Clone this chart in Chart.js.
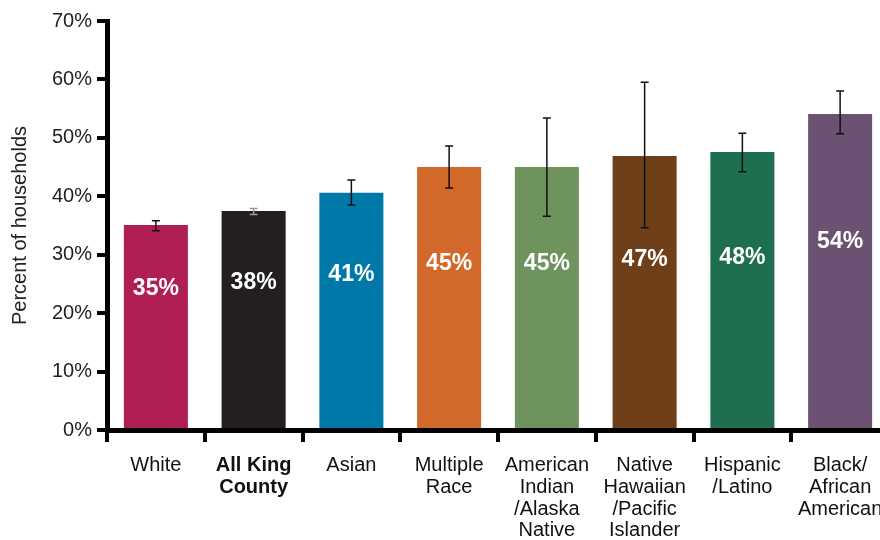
<!DOCTYPE html>
<html>
<head>
<meta charset="utf-8">
<script src="https://cdn.jsdelivr.net/npm/chart.js@4"></script>
<style>
  html, body { margin: 0; padding: 0; background: #fff; overflow: hidden; }
  #wrap { width: 900px; height: 540px; }
</style>
</head>
<body>
<div id="wrap"><canvas id="myChart" width="900" height="540"></canvas></div>
<script>
// Households by race/ethnicity
let categories = [
  ["White"], ["All King", "County"], ["Asian"], ["Multiple", "Race"],
  ["American", "Indian", "/Alaska", "Native"], ["Native", "Hawaiian", "/Pacific", "Islander"],
  ["Hispanic", "/Latino"], ["Black/", "African", "American"]
];
let values = [35.1, 37.5, 40.6, 45.0, 45.0, 46.9, 47.6, 54.1];
let errLow = [34.1, 36.9, 38.5, 41.4, 36.6, 34.6, 44.2, 50.7];
let errHigh = [35.8, 37.9, 42.8, 48.6, 53.4, 59.5, 50.8, 58.0];
let barColors = ["#B01F53", "#231F20", "#0079A8", "#D2692B", "#6F935C", "#6E3F19", "#1E6F50", "#6B5272"];
let errColors = ["#111", "#999", "#111", "#111", "#111", "#111", "#111", "#111"];
let yTicks = [0, 10, 20, 30, 40, 50, 60, 70];

// error bars + value labels
const extras = {
  id: "extras",
  afterDatasetsDraw(chart) {
    const ctx = chart.ctx;
    const y = chart.scales.y;
    const bars = chart.getDatasetMeta(0).data;
    ctx.save();
    bars.forEach((bar, i) => {
      const x = bar.x;
      const yl = y.getPixelForValue(errLow[i]);
      const yh = y.getPixelForValue(errHigh[i]);
      ctx.strokeStyle = errColors[i];
      ctx.lineWidth = 1.5;
      ctx.beginPath();
      ctx.moveTo(x, yl); ctx.lineTo(x, yh);
      ctx.moveTo(x - 4, yl); ctx.lineTo(x + 4, yl);
      ctx.moveTo(x - 4, yh); ctx.lineTo(x + 4, yh);
      ctx.stroke();

      ctx.fillStyle = "#fff";
      ctx.font = "bold 23px 'Liberation Sans', Arial, sans-serif";
      ctx.textAlign = "center";
      ctx.textBaseline = "middle";
      ctx.fillText(Math.round(values[i]) + "%", x, y.getPixelForValue(9.5 + 0.42 * values[i]));
    });
    ctx.restore();
  }
};

new Chart("myChart", {
  type: "bar",
  data: {
    labels: categories,
    datasets: [{
      data: values,
      backgroundColor: barColors,
      barPercentage: 0.655,
      categoryPercentage: 1
    }]
  },
  options: {
    responsive: false,
    devicePixelRatio: 1,
    animation: false,
    layout: { padding: { top: 21, right: 11, left: 8, bottom: 0 } },
    plugins: { legend: { display: false }, tooltip: { enabled: false } },
    scales: {
      x: {
        grid: { offset: true, drawOnChartArea: false, tickLength: 12, lineWidth: 4, color: "#000" },
        border: { color: "#000", width: 5 },
        ticks: {
          color: "#111",
          padding: 13,
          maxRotation: 0,
          autoSkip: false,
          font: (c) => ({
            family: "'Liberation Sans', Arial, sans-serif",
            size: 20,
            weight: c.index === 1 ? "bold" : "normal",
            lineHeight: 1.08
          })
        },
        afterFit: (s) => { s.height = 110; }
      },
      y: {
        min: 0,
        max: 70,
        afterBuildTicks: (s) => { s.ticks = yTicks.map(v => ({ value: v })); },
        grid: { drawOnChartArea: false, tickLength: 10, lineWidth: 4, color: "#000" },
        border: { color: "#000", width: 5 },
        ticks: {
          color: "#222",
          padding: 5,
          font: { family: "'Liberation Sans', Arial, sans-serif", size: 20 },
          callback: (v) => v + "%"
        },
        title: {
          display: true,
          text: "Percent of households",
          color: "#222",
          padding: { top: 0, bottom: 6 },
          font: { family: "'Liberation Sans', Arial, sans-serif", size: 20 }
        },
        afterFit: (s) => { s.width = 99; }
      }
    }
  },
  plugins: [extras]
});
</script>
</body>
</html>
